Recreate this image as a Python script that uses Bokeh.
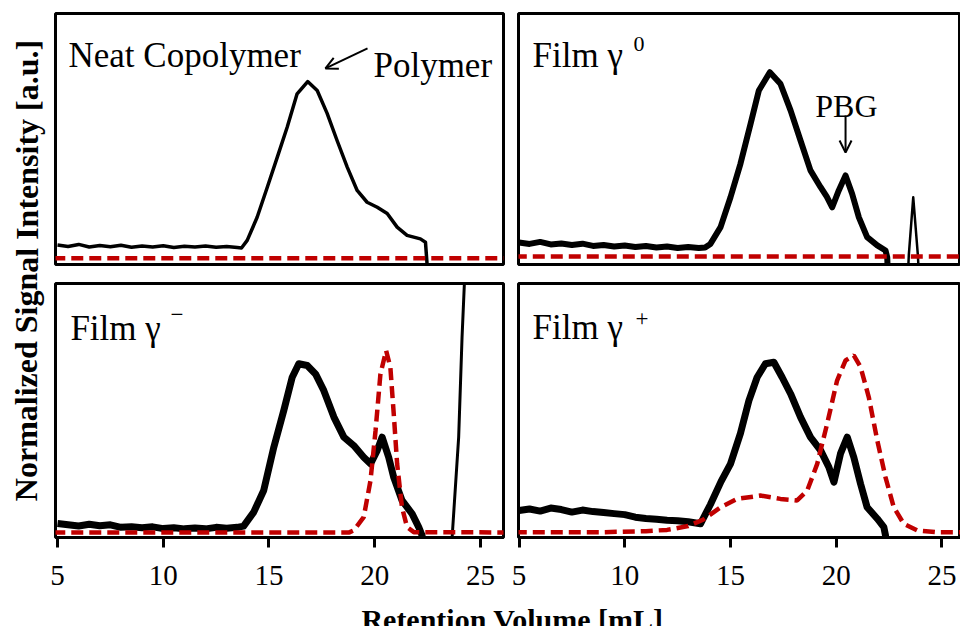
from bokeh.plotting import figure
from bokeh.models import Range1d, FixedTicker, Label, Arrow, OpenHead
from bokeh.layouts import row, column
from bokeh.embed import file_html
from bokeh.resources import INLINE

FONT = "'Liberation Serif', 'Times New Roman', serif"
RED = "#c00000"

x_ticks = [5, 10, 15, 20, 25]

# ---- Neat Copolymer (top-left) ----
tl_x = [5.0, 5.5, 6.0, 6.5, 7.0, 7.5, 8.0, 8.5, 9.0, 9.5, 10.0, 10.5, 11.0, 11.5, 12.0, 12.5, 13.0, 13.5, 13.7,
        13.97, 14.44, 14.92, 15.39, 15.86, 16.33, 16.83, 17.28, 17.75, 18.22, 18.70, 19.17, 19.64, 20.12,
        20.59, 21.06, 21.53, 22.16, 22.40, 22.47, 22.50]
tl_y = [0.078, 0.072, 0.080, 0.070, 0.076, 0.071, 0.077, 0.069, 0.074, 0.070, 0.075, 0.068, 0.073, 0.070,
        0.074, 0.069, 0.072, 0.068, 0.066,
        0.096, 0.188, 0.308, 0.427, 0.547, 0.680, 0.729, 0.693, 0.602, 0.494, 0.388, 0.295, 0.248, 0.228,
        0.203, 0.149, 0.116, 0.102, 0.089, 0.008, -0.06]
tl_ref_x = [4.8, 26.2]
tl_ref_y = [0.025, 0.025]

# ---- Film gamma 0 (top-right) ----
tr_x = [5.0, 5.5, 6.0, 6.5, 7.0, 7.5, 8.0, 8.5, 9.0, 9.5, 10.0, 10.5, 11.0, 11.5, 12.0, 12.5, 13.0, 13.5, 13.8,
        14.05, 14.53, 15.0, 15.47, 15.95, 16.34, 16.86, 17.36, 17.84, 18.31, 18.78, 19.26, 19.55, 19.81,
        20.12, 20.44, 20.75, 21.07, 21.46, 21.94, 22.33, 22.41, 22.45]
tr_y = [0.088, 0.082, 0.090, 0.080, 0.084, 0.078, 0.083, 0.074, 0.078, 0.072, 0.076, 0.070, 0.074, 0.068,
        0.072, 0.066, 0.070, 0.066, 0.068,
        0.082, 0.149, 0.268, 0.401, 0.561, 0.693, 0.766, 0.720, 0.614, 0.494, 0.375, 0.308, 0.270, 0.228,
        0.295, 0.355, 0.282, 0.188, 0.109, 0.076, 0.056, 0.029, -0.06]
tr_tail_x = [22.45, 23.38, 23.43, 23.64, 23.86, 23.92, 25.7]
tr_tail_y = [-0.06, -0.06, 0.036, 0.268, 0.036, -0.06, -0.06]
tr_ref_x = [4.8, 26.2]
tr_ref_y = [0.032, 0.032]

# ---- Film gamma - (bottom-left) ----
bl_x = [5.0, 5.5, 6.0, 6.5, 7.0, 7.5, 8.0, 8.5, 9.0, 9.5, 10.0, 10.5, 11.0, 11.5, 12.0, 12.5, 13.0, 13.5, 13.8,
        14.28, 14.75, 15.23, 15.70, 16.10, 16.41, 16.81, 17.20, 17.59, 18.07, 18.54, 19.01, 19.48, 19.80,
        20.12, 20.35, 20.66, 20.90, 21.29, 21.77, 22.08, 22.24, 22.30]
bl_y = [0.055, 0.050, 0.045, 0.052, 0.046, 0.050, 0.040, 0.042, 0.038, 0.042, 0.035, 0.038, 0.034, 0.037,
        0.034, 0.040, 0.036, 0.040, 0.045,
        0.100, 0.185, 0.356, 0.500, 0.631, 0.684, 0.677, 0.644, 0.579, 0.474, 0.395, 0.362, 0.316, 0.290,
        0.343, 0.395, 0.316, 0.237, 0.146, 0.093, 0.041, 0.008, -0.06]
bl_tail_x = [23.62, 23.66, 23.97, 24.13, 24.24, 24.30]
bl_tail_y = [-0.06, 0.0, 0.395, 0.789, 1.0, 1.1]
bl_ref_x = [4.8, 18.8, 19.01, 19.48, 19.80, 20.04, 20.27, 20.54, 20.74, 20.90, 21.06, 21.29, 21.53, 21.85, 26.2]
bl_ref_y = [0.020, 0.020, 0.028, 0.080, 0.224, 0.421, 0.644, 0.736, 0.670, 0.487, 0.290, 0.119, 0.041, 0.021, 0.020]

# ---- Film gamma + (bottom-right) ----
br_x = [5.0, 5.5, 6.0, 6.5, 7.0, 7.5, 8.0, 8.5, 9.0, 9.5, 10.0, 10.5, 11.0, 11.5, 12.0, 12.5, 13.0, 13.58,
        14.05, 14.55, 15.0, 15.47, 15.87, 16.26, 16.65, 17.05, 17.44, 17.84, 18.31, 18.78, 19.26, 19.65,
        19.89, 20.20, 20.52, 20.83, 21.15, 21.46, 21.94, 22.25, 22.33, 22.38]
br_y = [0.106, 0.112, 0.104, 0.116, 0.110, 0.100, 0.108, 0.102, 0.098, 0.094, 0.090, 0.080, 0.075, 0.072,
        0.068, 0.066, 0.062, 0.054,
        0.130, 0.220, 0.290, 0.410, 0.539, 0.631, 0.684, 0.690, 0.631, 0.566, 0.474, 0.395, 0.343, 0.277,
        0.218, 0.330, 0.395, 0.316, 0.211, 0.119, 0.074, 0.041, 0.008, -0.06]
br_ref_x = [4.8, 9.0, 11.0, 12.0, 13.0, 13.7, 14.53, 15.32, 16.42, 17.36, 18.15, 18.63, 19.10, 19.57, 20.04,
            20.44, 20.83, 21.15, 21.54, 21.94, 22.33, 22.72, 23.19, 23.83, 24.77, 26.0]
br_ref_y = [0.021, 0.021, 0.025, 0.030, 0.045, 0.070, 0.119, 0.152, 0.165, 0.152, 0.146, 0.185, 0.290, 0.448,
            0.618, 0.697, 0.717, 0.671, 0.552, 0.382, 0.237, 0.119, 0.054, 0.028, 0.021, 0.021]

LEFT_RANGE = (4.905, 26.09)
RIGHT_RANGE = (4.976, 25.875)


def panel(xr, fw, fh, mbl, mbr, mbt, mbb, axis):
    p = figure(frame_width=fw, frame_height=fh,
               x_range=Range1d(*xr), y_range=Range1d(0, 1),
               output_backend="svg", toolbar_location=None,
               x_axis_location="below" if axis else None, y_axis_location=None,
               min_border_left=mbl, min_border_right=mbr,
               min_border_top=mbt, min_border_bottom=mbb)
    p.grid.visible = False
    p.outline_line_color = "black"
    p.outline_line_width = 3
    p.background_fill_color = "white"
    p.border_fill_color = "white"
    if axis:
        ax = p.xaxis[0]
        ax.ticker = FixedTicker(ticks=x_ticks)
        ax.axis_label = None
        ax.minor_tick_line_color = None
        ax.major_tick_in = 0
        ax.major_tick_out = 10
        ax.major_tick_line_width = 3
        ax.major_tick_line_color = "black"
        ax.axis_line_width = 3
        ax.axis_line_color = "black"
        ax.major_label_text_font = FONT
        ax.major_label_text_font_size = "29px"
        ax.major_label_text_color = "black"
        ax.major_label_standoff = 18
    return p


def lab(p, x, y, text, size="35px", align="left", baseline="alphabetic"):
    p.add_layout(Label(x=x, y=y, text=text, text_font=FONT, text_font_size=size,
                       text_color="black", text_align=align, text_baseline=baseline))


def arrow(p, x0, y0, x1, y1):
    p.add_layout(Arrow(end=OpenHead(size=12, line_width=2, line_color="black"),
                       x_start=x0, y_start=y0, x_end=x1, y_end=y1,
                       line_width=2, line_color="black"))


# top-left
tl = panel(LEFT_RANGE, 448, 251, 7, 7, 13, 9, False)
tl.line(tl_x, tl_y, line_color="black", line_width=3.5, line_join="round")
tl.line(tl_ref_x, tl_ref_y, line_color=RED, line_width=4.5, line_dash="12 6")
lab(tl, 5.52, 0.833, "Neat Copolymer")
lab(tl, 19.94, 0.793, "Polymer")
arrow(tl, 19.66, 0.861, 17.67, 0.781)

# top-right
tr = panel(RIGHT_RANGE, 442, 251, 8, 0, 13, 9, False)
tr.line(tr_x, tr_y, line_color="black", line_width=6, line_join="round")
tr.line(tr_tail_x, tr_tail_y, line_color="black", line_width=2.5, line_join="round")
tr.line(tr_ref_x, tr_ref_y, line_color=RED, line_width=4.5, line_dash="12 6")
lab(tr, 5.64, 0.833, "Film γ")
lab(tr, 10.41, 0.880, "0", size="22px")
lab(tr, 20.48, 0.633, "PBG", size="32px", align="center")
arrow(tr, 20.44, 0.594, 20.44, 0.446)

# bottom-left
bl = panel(LEFT_RANGE, 448, 254, 7, 7, 10, 62, True)
bl.line(bl_x, bl_y, line_color="black", line_width=7, line_join="round")
bl.line(bl_tail_x, bl_tail_y, line_color="black", line_width=3, line_join="round")
bl.line(bl_ref_x, bl_ref_y, line_color=RED, line_width=4.5, line_dash="12 6")
lab(bl, 5.61, 0.823, "Film γ")
lab(bl, 10.34, 0.878, "−", size="23px")

# bottom-right
br = panel(RIGHT_RANGE, 442, 254, 8, 0, 10, 62, True)
br.line(br_x, br_y, line_color="black", line_width=7, line_join="round")
br.line(br_ref_x, br_ref_y, line_color=RED, line_width=4.5, line_dash="12 6")
lab(br, 5.64, 0.827, "Film γ")
lab(br, 10.51, 0.862, "+", size="23px")

# shared axis titles
ylab = figure(width=48, height=626, x_range=Range1d(0, 48), y_range=Range1d(0, 626),
              output_backend="svg", toolbar_location=None, title=None,
              x_axis_location=None, y_axis_location=None,
              min_border=0, outline_line_color=None)
ylab.grid.visible = False
ylab.add_layout(Label(x=26, y=356, text="Normalized Signal Intensity [a.u.]", angle=1.5707963,
                      text_font=FONT, text_font_style="bold", text_font_size="32px",
                      text_align="center", text_baseline="middle", text_color="black"))

xlab = figure(width=912, height=27, x_range=Range1d(0, 912), y_range=Range1d(0, 27),
              output_backend="svg", toolbar_location=None, title=None,
              x_axis_location=None, y_axis_location=None,
              min_border=0, outline_line_color=None)
xlab.grid.visible = False
xlab.add_layout(Label(x=464, y=7, text="Retention Volume [mL]",
                      text_font=FONT, text_font_style="bold", text_font_size="30px",
                      text_align="center", text_baseline="alphabetic", text_color="black"))

layout = row(ylab, column(row(tl, tr), row(bl, br), xlab))

with open("out.html", "w") as f:
    f.write(file_html(layout, INLINE))
